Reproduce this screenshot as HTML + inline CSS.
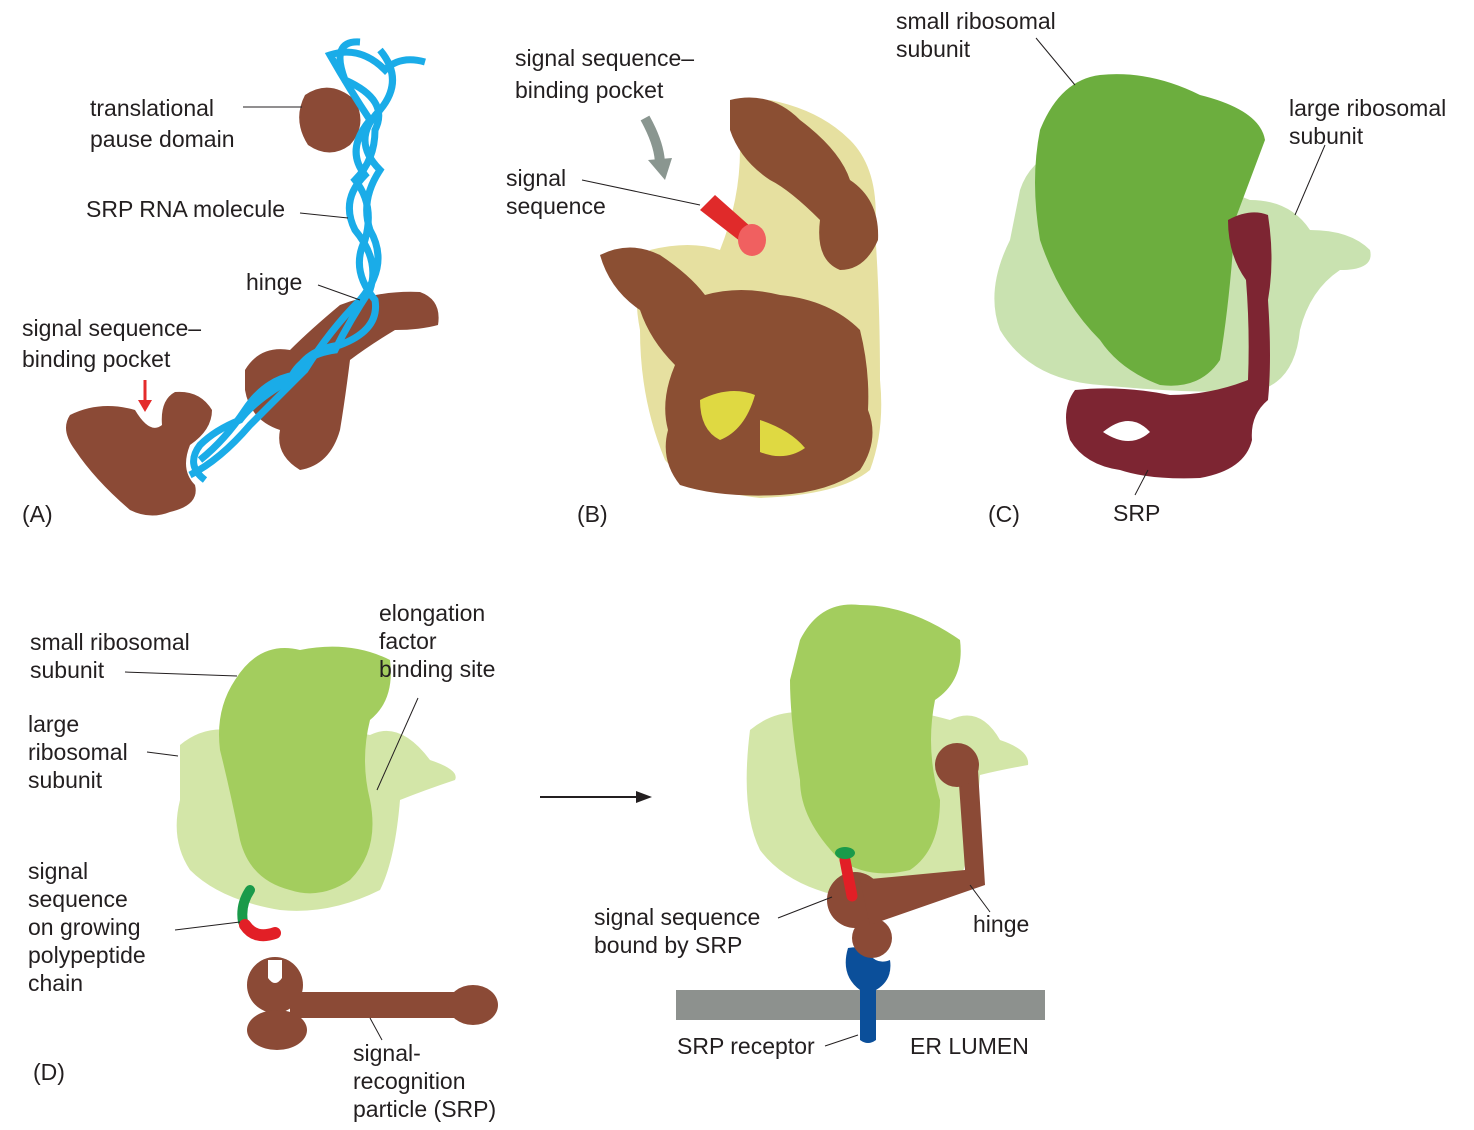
<!DOCTYPE html>
<html><head><style>
html,body{margin:0;padding:0;background:#fff;}
svg text{font-family:"Liberation Sans",sans-serif;font-size:23px;fill:#231f20;}
</style></head><body>
<svg width="1474" height="1125" viewBox="0 0 1474 1125" xmlns="http://www.w3.org/2000/svg">
<!-- Panel A -->
<g fill="#8b4a36">
<path d="M305,95 Q330,78 355,100 Q368,125 350,145 Q330,160 308,145 Q292,120 305,95Z"/>
<path d="M245,370 Q260,345 290,350 Q310,330 340,305 Q380,290 420,292 Q442,300 438,325 Q420,330 395,330 Q370,345 350,360 Q345,400 340,430 Q330,465 300,470 Q275,455 280,430 Q250,420 245,390Z"/>
<path d="M70,415 Q100,400 135,410 Q150,435 162,425 Q160,400 175,392 Q200,390 212,410 Q212,430 190,445 Q180,470 195,485 Q200,505 170,512 Q150,520 130,510 Q95,480 75,450 Q60,430 70,415Z"/>
</g>
<path d="M145,380 L145,405" stroke="#e42b2b" stroke-width="3"/>
<path d="M138,400 L145,412 L152,400Z" fill="#e42b2b"/>
<g fill="none" stroke="#1aace8" stroke-width="7">
<path d="M425,62 Q400,55 385,70 Q360,45 330,55 Q350,90 370,120 Q345,150 365,175 Q340,200 355,230 Q380,260 370,290 Q350,320 335,350 Q300,355 290,380 Q255,400 240,420 Q215,430 200,445 Q185,465 205,480"/>
<path d="M360,42 Q330,40 345,80 Q390,100 375,130 Q375,160 355,180 Q375,205 365,240 Q350,270 375,300 Q380,330 340,345 Q305,350 295,375 Q265,380 245,410 Q225,440 200,460"/>
<path d="M380,50 Q405,80 380,110 Q350,140 380,170 Q360,200 370,230 Q390,265 360,300 Q330,330 305,370 Q275,400 250,425 Q220,460 190,475"/>
</g>
<g fill="none" stroke="#231f20" stroke-width="1">
<path d="M243,107 L302,107"/><path d="M300,213 L348,218"/><path d="M318,285 L360,300"/>
</g>
<text x="90" y="116">translational</text><text x="90" y="147">pause domain</text>
<text x="86" y="217">SRP RNA molecule</text>
<text x="246" y="290">hinge</text>
<text x="22" y="336">signal sequence–</text><text x="22" y="367">binding pocket</text>
<text x="22" y="522">(A)</text>
<!-- Panel B -->
<path d="M650,250 Q690,240 720,250 Q740,200 740,150 Q745,110 770,100 Q820,110 850,140 Q880,170 875,230 Q880,300 880,380 Q885,430 870,470 Q840,495 760,498 Q690,490 665,460 Q640,400 640,330 Q630,280 650,250Z" fill="#e6e0a0"/>
<g fill="#8b4f33">
<path d="M730,100 Q770,90 800,120 Q840,150 850,180 Q880,200 878,240 Q865,270 840,270 Q815,260 820,220 Q790,190 770,180 Q740,160 730,130Z"/>
<path d="M600,255 Q630,240 660,255 Q690,275 705,295 Q740,285 780,295 Q830,300 860,330 Q870,370 868,410 Q880,440 860,470 Q830,492 780,495 Q720,498 680,485 Q660,460 668,430 Q660,400 675,365 Q650,340 640,310 Q610,290 600,255Z"/>
</g>
<path d="M700,400 Q730,385 755,395 Q745,430 720,440 Q700,430 700,400Z" fill="#dfd942"/>
<path d="M760,420 Q790,430 805,448 Q785,462 760,452Z" fill="#dfd942"/>
<path d="M700,210 L745,245 L760,235 L715,195Z" fill="#e02a2a"/>
<ellipse cx="752" cy="240" rx="14" ry="16" fill="#f06060"/>
<path d="M645,118 Q660,145 660,165" stroke="#8a9690" stroke-width="10" fill="none"/>
<path d="M648,160 L665,180 L672,158Z" fill="#8a9690"/>
<path d="M582,180 L700,205" stroke="#231f20" stroke-width="1"/>
<text x="515" y="66">signal sequence–</text><text x="515" y="98">binding pocket</text>
<text x="506" y="186">signal</text><text x="506" y="214">sequence</text>
<text x="577" y="522">(B)</text>
<!-- Panel C -->
<path d="M1020,190 Q1030,160 1060,150 Q1100,140 1250,200 Q1290,200 1310,230 Q1350,230 1370,250 Q1375,270 1340,270 Q1310,290 1300,330 Q1295,380 1260,390 Q1200,395 1100,385 Q1030,380 1000,330 Q985,290 1010,240Z" fill="#c9e2b0"/>
<path d="M1040,130 Q1060,80 1100,75 Q1150,70 1200,95 Q1260,110 1265,140 Q1250,180 1235,220 Q1230,300 1220,360 Q1200,390 1160,385 Q1120,370 1100,340 Q1060,300 1040,240 Q1030,180 1040,130Z" fill="#6cae3e"/>
<path d="M1228,220 Q1250,208 1268,215 Q1275,260 1268,300 Q1272,360 1268,400 Q1250,415 1252,440 Q1245,470 1200,478 Q1150,480 1120,470 Q1085,465 1070,440 Q1060,410 1075,390 Q1120,385 1170,395 Q1210,395 1248,380 Q1250,330 1246,280 Q1228,255 1228,220Z" fill="#7d2532"/>
<path d="M1103,432 Q1130,410 1150,432 Q1130,450 1103,432Z" fill="#fff"/>
<g stroke="#231f20" stroke-width="1" fill="none"><path d="M1036,38 L1075,85"/><path d="M1325,145 L1295,215"/><path d="M1148,470 L1135,495"/></g>
<text x="896" y="29">small ribosomal</text><text x="896" y="57">subunit</text>
<text x="1289" y="116">large ribosomal</text><text x="1289" y="144">subunit</text>
<text x="1113" y="521">SRP</text>
<text x="988" y="522">(C)</text>
<!-- Panel D left -->
<path d="M180,745 Q210,720 250,735 Q300,720 370,735 Q400,720 430,760 Q460,770 455,780 Q425,790 400,800 Q395,860 380,890 Q330,915 280,910 Q220,900 190,870 Q170,840 180,800Z" fill="#d3e6a8"/>
<path d="M235,680 Q260,640 300,650 Q350,640 390,660 Q395,700 370,720 Q360,760 370,800 Q380,850 350,880 Q320,900 290,890 Q250,880 240,840 Q230,790 220,750 Q215,710 235,680Z" fill="#a3cd5e"/>
<path d="M250,890 Q240,905 243,922" stroke="#1a9a4a" stroke-width="10" fill="none" stroke-linecap="round"/>
<path d="M245,925 Q255,940 275,933" stroke="#e21f26" stroke-width="12" fill="none" stroke-linecap="round"/>
<g fill="#8b4a36">
<circle cx="275" cy="985" r="28"/><ellipse cx="277" cy="1030" rx="30" ry="20"/>
<rect x="290" y="992" width="180" height="26"/><ellipse cx="473" cy="1005" rx="25" ry="20"/>
</g>
<path d="M268,960 L268,978 Q275,988 282,978 L282,960Z" fill="#fff"/>
<g stroke="#231f20" stroke-width="1" fill="none">
<path d="M125,672 L237,676"/><path d="M147,752 L178,756"/><path d="M418,698 L377,790"/><path d="M175,930 L240,922"/><path d="M370,1018 L382,1040"/>
</g>
<text x="30" y="650">small ribosomal</text><text x="30" y="678">subunit</text>
<text x="28" y="732">large</text><text x="28" y="760">ribosomal</text><text x="28" y="788">subunit</text>
<text x="379" y="621">elongation</text><text x="379" y="649">factor</text><text x="379" y="677">binding site</text>
<text x="28" y="879">signal</text><text x="28" y="907">sequence</text><text x="28" y="935">on growing</text><text x="28" y="963">polypeptide</text><text x="28" y="991">chain</text>
<text x="353" y="1061">signal-</text><text x="353" y="1089">recognition</text><text x="353" y="1117">particle (SRP)</text>
<text x="33" y="1080">(D)</text>
<!-- arrow -->
<path d="M540,797 L640,797" stroke="#231f20" stroke-width="2"/><path d="M636,791 L652,797 L636,803Z" fill="#231f20"/>
<!-- Panel D right -->
<path d="M750,730 Q780,705 820,715 Q880,700 950,720 Q980,705 1000,740 Q1030,750 1028,765 Q1000,770 980,775 Q975,840 960,880 Q910,905 860,900 Q790,890 760,850 Q740,810 750,730Z" fill="#d3e6a8"/>
<path d="M800,640 Q820,600 860,605 Q910,605 960,640 Q965,680 935,700 Q925,750 940,800 Q940,850 910,870 Q870,880 840,860 Q800,820 800,780 Q790,720 790,680 Q795,660 800,640Z" fill="#a3cd5e"/>
<rect x="676" y="990" width="369" height="30" fill="#8d918e"/>
<path d="M848,948 Q840,975 860,990 L860,1040 Q868,1046 876,1040 L876,990 Q893,980 890,960 Q878,965 870,955 Q870,945 848,948Z" fill="#0b4f9a"/>
<g fill="#8b4a36">
<circle cx="855" cy="900" r="28"/><circle cx="872" cy="938" r="20"/>
<path d="M860,880 L965,870 L958,770 L978,770 L985,885 L870,925Z"/>
<circle cx="957" cy="765" r="22"/>
</g>
<path d="M845,860 L852,896" stroke="#e21f26" stroke-width="11" stroke-linecap="round"/>
<ellipse cx="845" cy="853" rx="10" ry="6" fill="#1a9a4a"/>
<g stroke="#231f20" stroke-width="1" fill="none"><path d="M778,918 L832,897"/><path d="M990,912 L970,885"/><path d="M825,1046 L858,1035"/></g>
<text x="594" y="925">signal sequence</text><text x="594" y="953">bound by SRP</text>
<text x="973" y="932">hinge</text>
<text x="677" y="1054">SRP receptor</text>
<text x="910" y="1054">ER LUMEN</text>
</svg>
</body></html>
